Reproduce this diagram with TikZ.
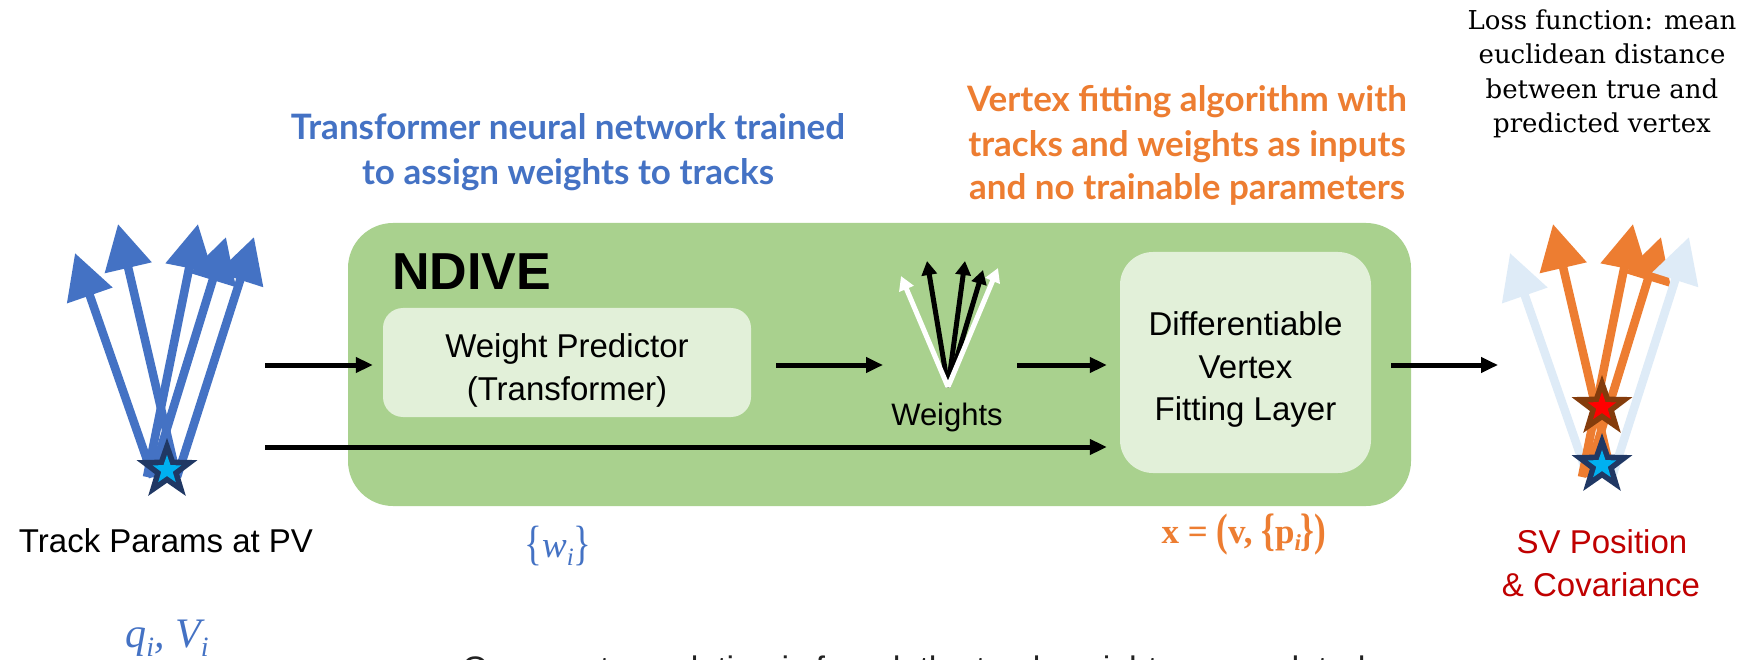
\documentclass[tikz,border=0pt]{standalone}
\usepackage{fontspec}
\setmainfont{Liberation Sans}
\newfontfamily\hdrfont{Lato}
\newfontfamily\lossfont{DejaVu Serif}
\newfontfamily\tmsfont{Liberation Serif}
\usetikzlibrary{arrows.meta,shapes.geometric}
\definecolor{tblue}{HTML}{4472C4}
\definecolor{torange}{HTML}{ED7D31}
\definecolor{tlight}{HTML}{DEEBF7}
\definecolor{boxgreen}{HTML}{A9D18E}
\definecolor{boxlight}{HTML}{E2F0D9}
\definecolor{navyc}{HTML}{203864}
\definecolor{skyc}{HTML}{00B0F0}
\definecolor{brownc}{HTML}{843C0C}
\definecolor{svred}{HTML}{C00000}
\definecolor{notegray}{HTML}{222222}
\newcommand{\lowsub}[2]{\raisebox{-0.22em}{\fontsize{#1}{#1}\selectfont #2}}
\newcommand{\tallbr}[1]{\raisebox{-0.08em}{\scalebox{1}[1.3]{#1}}}
\tikzset{
  track/.style={line width=8.5pt, -{Triangle[length=45pt,width=46pt]}},
  wtrack/.style={line width=5pt, -{Triangle[length=14pt,width=15pt]}},
  flow/.style={line width=5pt, -{Triangle[length=17pt,width=15pt]}},
  bigstar/.style={star, star points=5, star point ratio=2.5, inner sep=0pt, minimum size=64pt},
  smallstar/.style={star, star points=5, star point ratio=2.5, inner sep=0pt, minimum size=30pt},
  lbl/.style={font=\fontsize{33}{42}\selectfont, anchor=base, inner sep=0pt},
  hdr/.style={font=\hdrfont\bfseries\fontsize{35}{35}\selectfont, anchor=base, inner sep=0pt},
  losst/.style={font=\lossfont\fontsize{26}{26}\selectfont, anchor=base, inner sep=0pt},
  boxtxt/.style={font=\fontsize{33}{42.5}\selectfont, align=center, inner sep=0pt},
}
\begin{document}
\begin{tikzpicture}[x=1pt,y=-1pt]
\useasboundingbox (0,0) rectangle (1746,660);
\fill[white] (0,0) rectangle (1746,660);

% ---------- headers ----------
\node[hdr, text=tblue] (bh1) at (568,140) {Transformer neural network trained};
\node[hdr, text=tblue] (bh2) at (568,185) {to assign weights to tracks};
\node[hdr, text=torange] (oh1) at (1187,112) {Vertex fitting algorithm with};
\node[hdr, text=torange] (oh2) at (1187,157) {tracks and weights as inputs};
\node[hdr, text=torange] (oh3) at (1187,200) {and no trainable parameters};
\node[losst] (l1) at (1602,30) {Loss function: mean};
\node[losst] (l2) at (1602,64) {euclidean distance};
\node[losst] (l3) at (1602,99) {between true and};
\node[losst] (l4) at (1602,133) {predicted vertex};

% ---------- NDIVE block ----------
\node[fill=boxgreen, rounded corners=45pt, minimum width=1063pt, minimum height=283pt, inner sep=0pt] (ndive) at (879.5,364.5) {};
\node[font=\bfseries\fontsize{52}{52}\selectfont, anchor=base west, inner sep=0pt] (ndlbl) at (392,290) {NDIVE};
\node[fill=boxlight, rounded corners=20pt, minimum width=368pt, minimum height=109pt, inner sep=0pt] (wp) at (567,362.5) {};
\node[boxtxt, yshift=-8pt] (wptxt) at (wp.center) {Weight Predictor\\(Transformer)};
\node[fill=boxlight, rounded corners=33pt, minimum width=251pt, minimum height=221pt, inner sep=0pt] (dvf) at (1245.5,362.5) {};
\node[boxtxt, yshift=-7pt] (dvftxt) at (dvf.center) {Differentiable\\Vertex\\Fitting Layer};

% ---------- weights icon ----------
\coordinate (wbase) at (948,387);
\coordinate (wb1) at (927,261);
\coordinate (wb2) at (965,261);
\coordinate (wb3) at (983,270);
\coordinate (ww1) at (901,276);
\coordinate (ww2) at (998,268);
\draw[wtrack, black] (wbase) -- (wb1);
\draw[wtrack, black] (wbase) -- (wb2);
\draw[wtrack, black] (wbase) -- (wb3);
\draw[wtrack, white] (wbase) -- (ww1);
\draw[wtrack, white] (wbase) -- (ww2);
\node[font=\fontsize{31}{31}\selectfont, anchor=base, inner sep=0pt] (wts) at (947,425) {Weights};

% ---------- flow arrows ----------
\coordinate (in1) at (265,365);
\coordinate (in2) at (265,447);
\coordinate (win) at (883,365);
\coordinate (wout) at (1017,365);
\coordinate (svin) at (1498,365);
\draw[flow, shorten >=10pt] (in1) -- (in1 -| wp.west);
\draw[flow, shorten >=13pt] (in2) -- (in2 -| dvf.west);
\draw[flow, shorten <=25pt] (wp.east |- in1) -- (win);
\draw[flow, shorten >=13pt] (wout) -- (wout -| dvf.west);
\draw[flow, shorten <=20pt] (dvf.east |- in1) -- (svin);

% ---------- input tracks ----------
\draw[track, tblue] (153,477) -- (75,253);
\draw[track, tblue] (177,477) -- (118,224);
\draw[track, tblue] (147,477) -- (198,224);
\draw[track, tblue] (152,477) -- (226,237);
\draw[track, tblue] (177,477) -- (254,237);
\node[bigstar, fill=navyc] (pv) at (167,470) {};
\node[smallstar, fill=skyc] (pvin) at (pv.center) {};

% ---------- output tracks ----------
\begin{scope}[xshift=1435pt]
\draw[track, tlight] (153,477) -- (75,253);
\draw[track, torange] (177,477) -- (118,224);
\draw[track, torange] (147,477) -- (198,224);
\draw[track, torange] (152,477) -- (226,237);
\draw[track, tlight] (177,477) -- (254,237);
\end{scope}
\node[bigstar, fill=brownc] (sv) at (1602,407) {};
\node[smallstar, fill=red] (svinr) at (sv.center) {};
\node[bigstar, fill=navyc] (tv) at (1602,465) {};
\node[smallstar, fill=skyc] (tvin) at (tv.center) {};

% ---------- labels ----------
\node[lbl] (tp) at (166,552) {Track Params at PV};
\node[lbl, text=svred] (sv1) at (1602,553) {SV Position};
\node[lbl, text=svred] (sv2) at (1601,596) {\& Covariance};
\node[anchor=base, text=tblue, font=\tmsfont\fontsize{37}{37}\selectfont, inner sep=0pt] (wi) at (558,557) {\tallbr{\{}\textit{w}\lowsub{25}{\textit{i}}\tallbr{\}}};
\node[anchor=base, text=torange, font=\tmsfont\bfseries\fontsize{35}{35}\selectfont, inner sep=0pt] (xv) at (1244,543) {x = \tallbr{(}v, \tallbr{\{}p\lowsub{23}{\textit{i}}\tallbr{\}}\tallbr{)}};
\node[anchor=base, text=tblue, font=\tmsfont\itshape\fontsize{42}{42}\selectfont, inner sep=0pt] (qv) at (167,647) {q\lowsub{28}{i}, V\lowsub{28}{i}};
\node[anchor=base west, text=notegray, font=\fontsize{34}{34}\selectfont, inner sep=0pt] (note) at (462,680) {Once vertex solution is found, the track weights are updated};
\end{tikzpicture}
\end{document}
